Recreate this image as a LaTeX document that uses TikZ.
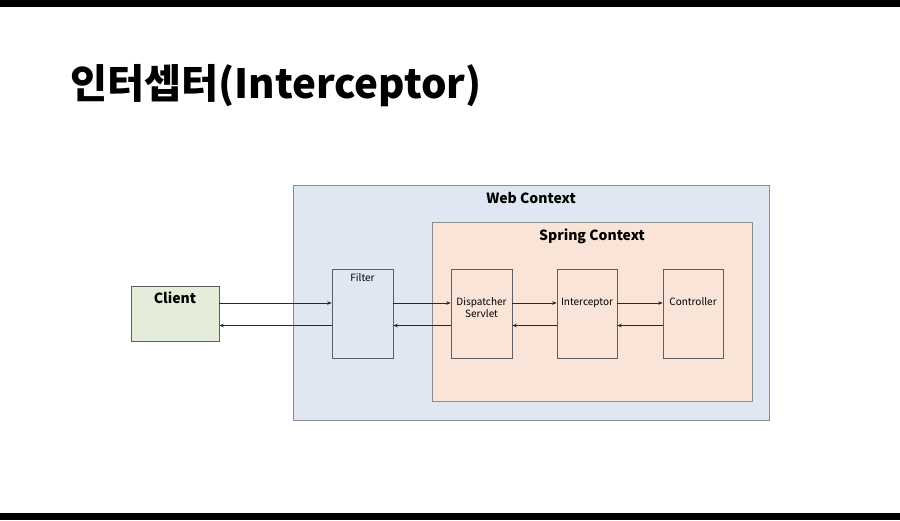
\documentclass[tikz,border=0pt]{standalone}
\usepackage{fontspec}
\setmainfont{Noto Sans CJK KR}
\usetikzlibrary{arrows.meta,positioning}
\definecolor{webcol}{RGB}{223,231,243}
\definecolor{springcol}{RGB}{249,228,215}
\definecolor{clientcol}{RGB}{228,237,217}
\definecolor{framecol}{RGB}{140,140,140}
\definecolor{boxline}{RGB}{95,95,95}
\definecolor{linecol}{RGB}{40,40,40}

\begin{document}
\begin{tikzpicture}[
    x=1pt, y=-1pt,
    >={Stealth[length=4.5pt, width=3.5pt]},
    ctx/.style={rectangle, draw=framecol, line width=0.8pt, inner sep=0pt},
    block/.style={rectangle, draw=boxline, line width=0.6pt, minimum width=61pt, minimum height=89pt, inner sep=0pt},
    ctxlabel/.style={font=\bfseries\fontsize{14}{16}\selectfont, inner sep=0pt},
    lbl/.style={font=\fontsize{10}{12}\selectfont, align=center, inner sep=0pt},
    arrow/.style={->, linecol, line width=0.8pt},
]
\useasboundingbox (0,0) rectangle (900,520);
\fill[white] (0,0) rectangle (900,520);
\fill[black] (0,0) rectangle (900,7);
\fill[black] (0,513) rectangle (900,520);

\node[font=\bfseries\fontsize{40.3}{48}\selectfont, anchor=base west, inner sep=0pt] (heading) at (70,98) {인터셉터(Interceptor)};

% contexts
\node[ctx, fill=webcol, minimum width=476pt, minimum height=235pt] (web) at (531,302.5) {};
\node[ctxlabel, below=7.5pt of web.north] (webtxt) {Web Context};
\node[ctx, fill=springcol, minimum width=320pt, minimum height=179pt] (spring) at (592,311.5) {};
\node[ctxlabel, below=7.5pt of spring.north] (springtxt) {Spring Context};

% boxes
\node[block, fill=clientcol, minimum width=88pt, minimum height=55pt] (client) at (175,313.5) {};
\node[ctxlabel, below=6pt of client.north] (clienttxt) {Client};
\node[block, fill=webcol] (filter) at (362.5,313.5) {};
\node[lbl, below=5pt of filter.north] (filtertxt) {Filter};
\node[block, fill=springcol] (disp) at (481.5,313.5) {};
\node[lbl, below=29pt of disp.north] (disptxt) {Dispatcher\\Servlet};
\node[block, fill=springcol, minimum width=60pt] (inter) at (587,313.5) {};
\node[lbl, below=29pt of inter.north] (intertxt) {Interceptor};
\node[block, fill=springcol, minimum width=60pt] (ctrl) at (693,313.5) {};
\node[lbl, below=29pt of ctrl.north] (ctrltxt) {Controller};

% request / response
\draw[arrow] ([yshift=10.5pt]client.east) -- ([yshift=10.5pt]filter.west);
\draw[arrow] ([yshift=10.5pt]filter.east) -- ([yshift=10.5pt]disp.west);
\draw[arrow] ([yshift=10.5pt]disp.east) -- ([yshift=10.5pt]inter.west);
\draw[arrow] ([yshift=10.5pt]inter.east) -- ([yshift=10.5pt]ctrl.west);
\draw[arrow] ([yshift=-12pt]ctrl.west) -- ([yshift=-12pt]inter.east);
\draw[arrow] ([yshift=-12pt]inter.west) -- ([yshift=-12pt]disp.east);
\draw[arrow] ([yshift=-12pt]disp.west) -- ([yshift=-12pt]filter.east);
\draw[arrow] ([yshift=-12pt]filter.west) -- ([yshift=-12pt]client.east);
\end{tikzpicture}
\end{document}
